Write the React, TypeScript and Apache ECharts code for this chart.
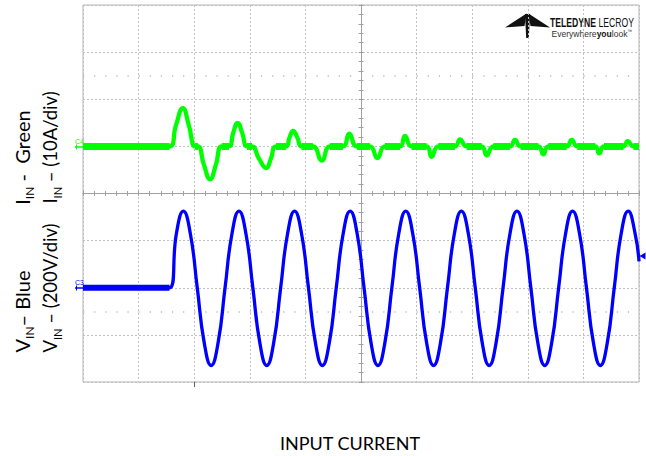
import React, { useEffect, useRef } from "react";
import * as echarts from "echarts";

// ---- data (time in ms, 20 ms/div) ----
const timeRange: [number, number] = [0, 200];
const currentRange: [number, number] = [-10, 30]; // 10 A/div, zero one div above centre
const voltageRange: [number, number] = [-400, 400]; // 200 V/div

// Green: input current (A)
const currentPoints: [number, number][] = [
  [0, 0], [31.1, 0], [33.4, 4.4], [35.9, 8.1], [38.1, 4.4], [40.3, 0], [41.4, 0],
  [43.5, -3.9], [45.7, -7.0], [47.8, -3.9], [49.9, 0], [52.5, 0],
  [54.0, 2.8], [55.6, 5.0], [57.3, 2.8], [59.0, 0], [60.8, 0], [63.3, -2.6], [65.9, -4.6], [67.6, -2.6],
  [69.4, 0], [73.0, 0], [74.3, 1.9], [75.6, 3.3], [77.1, 1.9], [78.6, 0],
  [82.7, 0], [85.9, -3.0], [88.8, 0], [93.5, 0], [95.8, 2.7], [98.5, 0], [103.2, 0], [105.9, -2.5],
  [108.6, 0], [114.0, 0], [115.8, 2.2], [118.2, 0], [123.6, 0], [125.4, -2.2], [127.8, 0], [133.8, 0],
  [135.6, 1.5], [138.0, 0], [143.4, 0], [145.2, -1.9], [147.6, 0], [153.6, 0], [155.4, 1.4], [157.4, 0],
  [163.8, 0], [165.6, -1.7], [167.4, 0], [174.0, 0], [175.8, 1.4], [177.8, 0], [184.2, 0], [185.7, -1.5],
  [187.4, 0], [194.4, 0], [195.9, 1.1], [198.0, 0], [200, 0],
];
// flat (noisy) stretches of the current trace
const currentFlatSegments: [number, number][] = [
  [0, 31.1], [40.3, 41.4], [49.9, 52.5], [59.0, 60.8], [69.4, 73.0], [78.6, 82.7], [88.8, 93.5],
  [98.5, 103.2], [108.6, 114.0], [118.2, 123.6], [127.8, 133.8], [138.0, 143.4], [147.6, 153.6],
  [157.4, 163.8], [167.4, 174.0], [177.8, 184.2], [187.4, 194.4], [198.0, 200],
];

// Blue: input voltage (V)
const voltagePoints: [number, number][] = [
  [0, 0], [31.1, 0],
  [33.6, 230], [36.1, 325], [38.6, 230], [41.1, 0], [43.6, -233], [46.1, -330], [48.6, -233], [51.1, 0],
  [53.6, 230], [56.1, 325], [58.6, 230], [61.1, 0], [63.6, -233], [66.1, -330], [68.6, -233], [71.1, 0],
  [73.6, 230], [76.1, 325], [78.6, 230], [81.1, 0], [83.6, -233], [86.1, -330], [88.6, -233], [91.1, 0],
  [93.6, 230], [96.1, 325], [98.6, 230], [101.1, 0], [103.6, -233], [106.1, -330], [108.6, -233], [111.1, 0],
  [113.6, 230], [116.1, 325], [118.6, 230], [121.1, 0], [123.6, -233], [126.1, -330], [128.6, -233], [131.1, 0],
  [133.6, 230], [136.1, 325], [138.6, 230], [141.1, 0], [143.6, -233], [146.1, -330], [148.6, -233], [151.1, 0],
  [153.6, 230], [156.1, 325], [158.6, 230], [161.1, 0], [163.6, -233], [166.1, -330], [168.6, -233], [171.1, 0],
  [173.6, 230], [176.1, 325], [178.6, 230], [181.1, 0], [183.6, -233], [186.1, -330], [188.6, -233], [191.1, 0],
  [193.6, 230], [196.1, 325], [198.6, 230], [200, 112],
];
const voltageFlatSegments: [number, number][] = [[0, 31.1]];

// Graticule: 10 x 8 divisions
const gratX: [number, number] = [-5, 5];
const gratY: [number, number] = [-4, 4];
const dotRows = [2.5, -2.5];

const GREEN = "#00ff00";
const BLUE = "#0000ff";
const GRID_GRAY = "#c0c0c0";
const CROSS_GRAY = "#a0a0a0";

function segmentsToData(segs: [number, number][], level: number) {
  const out: any[] = [];
  segs.forEach(([a, b], i) => {
    if (i > 0) out.push([a, "-"]);
    out.push([a, level], [b, level]);
  });
  return out;
}

const subRich = (size: number, sub: number) => ({
  b: { fontSize: size, fontFamily: "Lato", fill: "#000" },
  s: { fontSize: sub, fontFamily: "Lato", fill: "#000", verticalAlign: "bottom", padding: [0, 0, -3, 0] },
});

const LOGO_FONT = "'Liberation Sans', Arial, sans-serif";

export default function App() {
  const ref = useRef<HTMLDivElement>(null);
  useEffect(() => {
    if (!ref.current) return;
    const chart = echarts.init(ref.current, undefined, { renderer: "svg" });

    const centreAxis = (pos: string) => ({
      gridIndex: 0,
      type: "value",
      position: pos,
      interval: 1,
      axisLine: { show: true, onZero: true, lineStyle: { color: CROSS_GRAY, width: 1 } },
      axisTick: { show: true, length: 2.5, lineStyle: { color: CROSS_GRAY, width: 1 } },
      minorTick: { show: true, splitNumber: 5, length: 2.5, lineStyle: { color: CROSS_GRAY, width: 1 } },
      axisLabel: { show: false },
    });

    const xCentre = (pos: string, split: boolean) => ({
      ...centreAxis(pos),
      min: gratX[0],
      max: gratX[1],
      splitLine: { show: split, lineStyle: { color: GRID_GRAY, width: 1, type: [2, 2] } },
    });
    const yCentre = (pos: string, split: boolean) => ({
      ...centreAxis(pos),
      min: gratY[0],
      max: gratY[1],
      splitLine: { show: split, lineStyle: { color: GRID_GRAY, width: 1, type: [2, 2] } },
    });

    const hidden = (grid: number, range: [number, number]) => ({
      gridIndex: grid,
      type: "value",
      min: range[0],
      max: range[1],
      show: false,
    });

    chart.setOption({
      animation: false,
      backgroundColor: "#ffffff",
      grid: [
        { left: 83, top: 5, width: 556, height: 377, show: true, borderColor: "#b4b4b4", borderWidth: 1, backgroundColor: "transparent", outerBoundsMode: "none" },
        { left: 83, top: 5, width: 556, height: 188.5, show: false, outerBoundsMode: "none" },
        { left: 83, top: 193.5, width: 556, height: 188.5, show: false, outerBoundsMode: "none" },
      ],
      xAxis: [
        xCentre("bottom", true),
        xCentre("top", false),
        hidden(1, timeRange),
        hidden(2, timeRange),
      ],
      yAxis: [
        yCentre("left", true),
        yCentre("right", false),
        hidden(1, currentRange),
        hidden(2, voltageRange),
      ],
      series: [
        {
          type: "line",
          xAxisIndex: 0,
          yAxisIndex: 0,
          data: [],
          silent: true,
          markLine: {
            silent: true,
            symbol: ["none", "none"],
            label: { show: false },
            lineStyle: { color: "#b8b8b8", width: 1.5, type: [1.2, 9.92] },
            data: dotRows.map((v) => ({ yAxis: v })),
          },
        },
        {
          type: "line",
          name: "I band",
          xAxisIndex: 2,
          yAxisIndex: 2,
          data: segmentsToData(currentFlatSegments, 0),
          showSymbol: false,
          symbol: "none",
          connectNulls: false,
          lineStyle: { color: GREEN, width: 7 },
        },
        {
          type: "line",
          name: "I",
          xAxisIndex: 2,
          yAxisIndex: 2,
          data: currentPoints,
          showSymbol: false,
          symbol: "none",
          smooth: 0.5,
          lineStyle: { color: GREEN, width: 4.3 },
        },
        {
          type: "line",
          name: "V band",
          xAxisIndex: 3,
          yAxisIndex: 3,
          data: segmentsToData(voltageFlatSegments, 0),
          showSymbol: false,
          symbol: "none",
          lineStyle: { color: BLUE, width: 6 },
        },
        {
          type: "line",
          name: "V",
          xAxisIndex: 3,
          yAxisIndex: 3,
          data: voltagePoints,
          showSymbol: false,
          symbol: "none",
          smooth: 0.5,
          lineStyle: { color: BLUE, width: 3.3 },
        },
      ],
      graphic: [
        // left rotated labels
        {
          type: "text", x: 22, y: 157.5, rotation: Math.PI / 2,
          style: { text: "{b|I}{s|IN}{b| -  Green}", rich: subRich(20, 12), align: "center", verticalAlign: "middle", fill: "#000" },
        },
        {
          type: "text", x: 22, y: 311.5, rotation: Math.PI / 2,
          style: { text: "{b|V}{s|IN}{b|– Blue}", rich: subRich(20, 12), align: "center", verticalAlign: "middle", fill: "#000" },
        },
        {
          type: "text", x: 50, y: 147.5, rotation: Math.PI / 2,
          style: { text: "{b|I}{s|IN}{b| – (10A/div)}", rich: subRich(18.5, 11), align: "center", verticalAlign: "middle", fill: "#000" },
        },
        {
          type: "text", x: 50, y: 288, rotation: Math.PI / 2,
          style: { text: "{b|V}{s|IN}{b| – (200V/div)}", rich: subRich(18.5, 11), align: "center", verticalAlign: "middle", fill: "#000" },
        },
        // bottom caption
        {
          type: "text", x: 350, y: 443,
          style: { text: "INPUT CURRENT", fontSize: 18, fontFamily: "Lato, sans-serif", fill: "#000", align: "center", verticalAlign: "middle" },
        },
        // channel markers
        { type: "text", x: 75, y: 141, style: { text: "C4", fontSize: 7, fontFamily: "Liberation Sans", fill: GREEN, align: "left", verticalAlign: "middle" } },
        { type: "line", shape: { x1: 75, y1: 147, x2: 84, y2: 147 }, style: { stroke: GREEN, lineWidth: 1.5 } },
        { type: "line", shape: { x1: 76.5, y1: 144.5, x2: 76.5, y2: 149.5 }, style: { stroke: GREEN, lineWidth: 1 } },
        { type: "text", x: 75, y: 282, style: { text: "C3", fontSize: 7, fontFamily: "Liberation Sans", fill: BLUE, align: "left", verticalAlign: "middle" } },
        { type: "line", shape: { x1: 75, y1: 288, x2: 84, y2: 288 }, style: { stroke: BLUE, lineWidth: 1.5 } },
        { type: "line", shape: { x1: 76.5, y1: 285.5, x2: 76.5, y2: 290.5 }, style: { stroke: BLUE, lineWidth: 1 } },
        // trigger level (right) and trigger position (bottom)
        { type: "polygon", shape: { points: [[639.5, 256], [645.5, 252.5], [645.5, 259.5]] }, style: { fill: BLUE } },
        { type: "line", shape: { x1: 194.5, y1: 382, x2: 194.5, y2: 387 }, style: { stroke: "#606060", lineWidth: 1 } },
        // logo
        { type: "polygon", shape: { points: [[526.5, 13.5], [505, 27.5], [524.5, 26]] }, style: { fill: "#111" } },
        { type: "polygon", shape: { points: [[528.5, 13.5], [550, 27.5], [530.5, 26]] }, style: { fill: "#111" } },
        { type: "polygon", shape: { points: [[525, 14], [530, 14], [528.8, 38], [526.2, 38]] }, style: { fill: "#111" } },
        {
          type: "text", x: 550, y: 23, scaleX: 0.72,
          style: {
            text: "{b|TELEDYNE} {n|LECROY}",
            rich: {
              b: { fontSize: 12, fontWeight: "bold", fontFamily: LOGO_FONT, fill: "#111" },
              n: { fontSize: 12, fontFamily: LOGO_FONT, fill: "#111" },
            },
            align: "left", verticalAlign: "middle",
          },
        },
        {
          type: "text", x: 551.5, y: 34, scaleX: 0.9,
          style: {
            text: "{n|Everywhere}{b|you}{n|look}{t|™}",
            rich: {
              b: { fontSize: 9.5, fontWeight: "bold", fontFamily: LOGO_FONT, fill: "#111" },
              n: { fontSize: 9.5, fontFamily: LOGO_FONT, fill: "#333" },
              t: { fontSize: 5, fontFamily: LOGO_FONT, fill: "#111", verticalAlign: "top" },
            },
            align: "left", verticalAlign: "middle",
          },
        },
      ],
    });
    return () => chart.dispose();
  }, []);
  return <div ref={ref} style={{ position: "fixed", left: 0, top: 0, width: 646, height: 456 }} />;
}
